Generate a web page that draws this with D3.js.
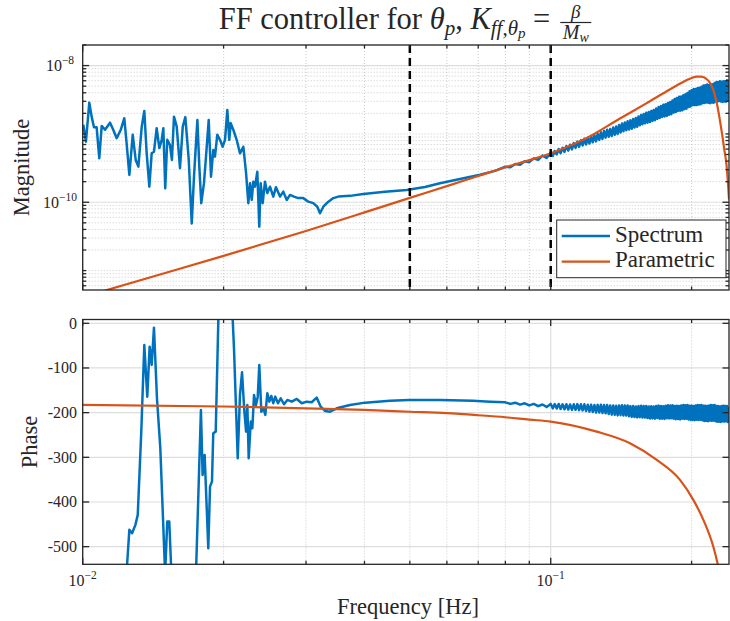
<!DOCTYPE html>
<html><head><meta charset="utf-8">
<script src="https://cdn.jsdelivr.net/npm/d3@7"></script>
<style>
body{margin:0;background:#fff}
svg{display:block}
text{font-family:"Liberation Serif","Times New Roman",serif;fill:#262626}
</style>
</head><body>
<svg id="c" width="730" height="621" font-family="Liberation Serif, Times New Roman, serif"></svg>
<script>
// ---------------- DATA ----------------
const seriesNames = ["Spectrum", "Parametric"];
const xMajorTicks = [0.01, 0.1];
const xTickExponents = [-2, -1];
const xMinorTicks = [0.02, 0.03, 0.04, 0.05, 0.06, 0.07, 0.08, 0.09, 0.2];
const magMajorTicks = [1e-10, 1e-8];
const magTickExponents = [-10, -8];
const phaseTicks = [0, -100, -200, -300, -400, -500];
const phaseTickLabels = ["0", "-100", "-200", "-300", "-400", "-500"];
const dashedFreqs = [0.05, 0.1];

// Spectrum magnitude, noisy low-frequency part
const magLowFreq = [0.01003, 0.01016, 0.01033, 0.01045, 0.01057, 0.01071, 0.01085, 0.01098, 0.01116, 0.01144,
  0.01162, 0.01182, 0.01206, 0.01227, 0.01242, 0.01258, 0.01279, 0.01298, 0.01315, 0.01337,
  0.01354, 0.0137, 0.01388, 0.01404, 0.0142, 0.01439, 0.01458, 0.01475, 0.01487, 0.01501,
  0.01516, 0.01536, 0.01551, 0.01567, 0.01588, 0.01614, 0.01636, 0.01657, 0.01685, 0.0171,
  0.01729, 0.01758, 0.01775, 0.01792, 0.01816, 0.01841, 0.01859, 0.0188, 0.01901, 0.01917,
  0.01939, 0.01965, 0.01991, 0.02014, 0.02037, 0.02057, 0.02071, 0.02098, 0.02133, 0.02168,
  0.02204, 0.02234, 0.02259, 0.02278, 0.02297, 0.02315, 0.02334, 0.02361, 0.02384, 0.024,
  0.02424, 0.02452, 0.0248, 0.02513, 0.02554, 0.02588, 0.0264, 0.02683, 0.02729, 0.02773,
  0.02828, 0.02888, 0.0296, 0.03035, 0.03109, 0.03172, 0.03214, 0.03267, 0.03349, 0.03432,
  0.03518, 0.03726, 0.03977, 0.04426, 0.04923, 0.05387, 0.058, 0.064, 0.07063, 0.07603];
const magLow = [1.36e-9, 7.7e-10, 2.87e-9, 1.79e-9, 1.25e-9, 1.25e-9, 4.4e-10, 1.31e-9, 1.15e-9, 1.46e-9,
  1.15e-9, 8.65e-10, 1.15e-9, 1.70e-9, 6.9e-10, 2.51e-10, 9.7e-10, 4.16e-10, 3.32e-10, 1.28e-9,
  2.17e-9, 5.2e-10, 1.69e-10, 5.2e-10, 5.5e-10, 1.21e-9, 6.2e-10, 8.2e-10, 1.21e-9, 1.6e-10,
  8.2e-10, 6.9e-10, 4.16e-10, 1.79e-9, 1.28e-9, 3.15e-10, 1.28e-9, 1.76e-9, 4.16e-10, 4.9e-11,
  2.37e-10, 1.6e-9, 3.32e-10, 9.7e-11, 1.9e-10, 6.5e-10, 1.6e-9, 2.37e-10, 5.8e-10, 4.66e-10,
  9.7e-10, 8.2e-10, 6.5e-10, 8.2e-10, 2.24e-9, 8.2e-10, 1.44e-9, 1.15e-9, 8.2e-10, 5.2e-10,
  6.5e-10, 2.66e-10, 9.7e-11, 1.9e-10, 1.08e-10, 2.0e-10, 1.69e-10, 2.8e-10, 4.4e-11, 1.9e-10,
  9.7e-11, 2.0e-10, 1.36e-10, 1.69e-10, 1.21e-10, 1.66e-10, 1.21e-10, 1.43e-10, 1.08e-10, 1.28e-10,
  1.21e-10, 1.15e-10, 1.15e-10, 1.02e-10, 9.7e-11, 8.6e-11, 6.9e-11, 8.6e-11, 1.02e-10, 1.15e-10,
  1.21e-10, 1.24e-10, 1.32e-10, 1.42e-10, 1.51e-10, 1.67e-10, 1.9e-10, 2.19e-10, 2.52e-10, 2.88e-10];

// Spectrum phase, low-frequency part
const phaseLowFreq = [0.0124, 0.01258, 0.01275, 0.01296, 0.01311, 0.01334, 0.01354, 0.01374, 0.0139, 0.01404,
  0.0142, 0.01441, 0.01465, 0.015, 0.01516, 0.01531, 0.01547, 0.01638, 0.01746, 0.01789,
  0.01804, 0.01822, 0.01855, 0.01871, 0.01889, 0.01901, 0.01924, 0.01949, 0.0202, 0.02092,
  0.02105, 0.02144, 0.02168, 0.0219, 0.02214, 0.02234, 0.02248, 0.02263, 0.02286, 0.02304,
  0.02323, 0.02346, 0.02366, 0.02384, 0.02408, 0.02432, 0.02456, 0.0248, 0.02505, 0.02529,
  0.02554, 0.02579, 0.02614, 0.02649, 0.02692, 0.02737, 0.02797, 0.02867, 0.02938, 0.0301,
  0.03085, 0.03162, 0.03225, 0.03294, 0.03377, 0.0349, 0.03726, 0.0401, 0.04536, 0.04983,
  0.058, 0.06823, 0.07419];
const phaseLow = [-563, -462.4, -469.8, -451.2, -428.9, -242.5, -48.5, -164.2, -52.3, -93.3,
  -9.8, -167.8, -279.6, -560, -443.8, -443.8, -560, -700, -560, -194,
  -339.4, -294.6, -503.4, -365.5, -354.4, -246.1, -242.5, 7.4, 60, 7.4,
  -55.9, -302, -160.4, -109.6, -194, -242.5, -182.8, -302, -220.1, -234.9,
  -160.4, -182.8, -164.2, -93.3, -197.8, -190.2, -205.1, -156.6, -175.4, -162.6,
  -179, -164.2, -179, -167.8, -181.2, -171.6, -175.4, -169.4, -179, -175.4,
  -176.7, -166.4, -186.6, -196.2, -197.8, -190.2, -182.8, -177.6, -173.2, -171.6,
  -171.6, -173.2, -175.4];

// Spectrum, high-frequency part (fast oscillating band)
const bandFreq = [0.080, 0.082, 0.084, 0.086, 0.088, 0.090, 0.092, 0.094, 0.096, 0.098,
  0.100, 0.101, 0.102, 0.103, 0.104, 0.105, 0.106, 0.107, 0.108, 0.109,
  0.110, 0.111, 0.112, 0.113, 0.114, 0.115, 0.116, 0.117, 0.118, 0.119,
  0.120, 0.121, 0.122, 0.123, 0.124, 0.125, 0.126, 0.127, 0.128, 0.129,
  0.130, 0.131, 0.132, 0.133, 0.134, 0.135, 0.136, 0.137, 0.138, 0.139,
  0.140, 0.141, 0.142, 0.143, 0.144, 0.145, 0.146, 0.147, 0.148, 0.149,
  0.150, 0.151, 0.152, 0.153, 0.154, 0.155, 0.156, 0.157, 0.158, 0.159,
  0.160, 0.161, 0.162, 0.163, 0.164, 0.165, 0.166, 0.167, 0.168, 0.169,
  0.170, 0.171, 0.172, 0.173, 0.174, 0.175, 0.176, 0.177, 0.178, 0.179,
  0.180, 0.181, 0.182, 0.183, 0.184, 0.185, 0.186, 0.187, 0.188, 0.189,
  0.190, 0.191, 0.192, 0.193, 0.194, 0.195, 0.196, 0.197, 0.198, 0.199,
  0.200, 0.201, 0.202, 0.203, 0.204, 0.205, 0.206, 0.207, 0.208, 0.209,
  0.210, 0.211, 0.212, 0.213, 0.214, 0.215, 0.216, 0.217, 0.218, 0.219,
  0.220, 0.221, 0.222, 0.223, 0.224, 0.225, 0.226, 0.227, 0.228, 0.229,
  0.230, 0.231, 0.232, 0.233, 0.234, 0.235, 0.236, 0.237, 0.238, 0.239, 0.240];
const bandMag = [3.31e-10, 3.25e-10, 3.64e-10, 3.55e-10, 3.99e-10, 3.86e-10, 4.39e-10, 4.16e-10, 4.81e-10, 4.45e-10,
  5.28e-10, 4.76e-10, 5.61e-10, 5.02e-10, 6.0e-10, 5.24e-10, 6.29e-10, 5.45e-10, 6.64e-10, 5.70e-10,
  6.95e-10, 5.94e-10, 7.33e-10, 6.24e-10, 7.72e-10, 6.49e-10, 8.06e-10, 6.78e-10, 8.49e-10, 7.0e-10,
  8.77e-10, 7.23e-10, 9.18e-10, 7.53e-10, 9.53e-10, 7.78e-10, 1.003e-9, 8.17e-10, 1.055e-9, 8.46e-10,
  1.10e-9, 8.83e-10, 1.15e-9, 9.08e-10, 1.18e-9, 9.33e-10, 1.24e-9, 9.71e-10, 1.28e-9, 1.0e-9,
  1.35e-9, 1.05e-9, 1.42e-9, 1.09e-9, 1.47e-9, 1.13e-9, 1.53e-9, 1.16e-9, 1.58e-9, 1.19e-9,
  1.65e-9, 1.24e-9, 1.71e-9, 1.27e-9, 1.80e-9, 1.34e-9, 1.89e-9, 1.38e-9, 1.96e-9, 1.43e-9,
  2.04e-9, 1.46e-9, 2.09e-9, 1.49e-9, 2.17e-9, 1.55e-9, 2.24e-9, 1.59e-9, 2.35e-9, 1.66e-9,
  2.47e-9, 1.71e-9, 2.55e-9, 1.77e-9, 2.67e-9, 1.80e-9, 2.72e-9, 1.83e-9, 2.84e-9, 1.90e-9,
  2.93e-9, 1.94e-9, 3.08e-9, 2.04e-9, 3.24e-9, 2.09e-9, 3.34e-9, 2.17e-9, 3.50e-9, 2.19e-9,
  3.54e-9, 2.21e-9, 3.68e-9, 2.30e-9, 3.79e-9, 2.34e-9, 3.98e-9, 2.47e-9, 4.20e-9, 2.52e-9,
  4.34e-9, 2.63e-9, 4.53e-9, 2.64e-9, 4.53e-9, 2.64e-9, 4.68e-9, 2.70e-9, 4.72e-9, 2.71e-9,
  4.91e-9, 2.82e-9, 5.09e-9, 2.83e-9, 5.14e-9, 2.89e-9, 5.29e-9, 2.86e-9, 5.21e-9, 2.82e-9,
  5.32e-9, 2.87e-9, 5.35e-9, 2.86e-9, 5.54e-9, 2.98e-9, 5.74e-9, 2.97e-9, 5.77e-9, 3.03e-9,
  5.92e-9, 2.98e-9, 5.79e-9, 2.93e-9, 5.91e-9, 2.98e-9, 5.89e-9, 2.96e-9, 6.08e-9, 3.08e-9, 6.26e-9];
const bandPhase = [-176.9, -180.4, -177.7, -182.0, -179.1, -183.8, -180.5, -185.5, -181.8, -187.2,
  -180.5, -190.4, -180.7, -190.8, -180.6, -191.7, -181.3, -192.6, -181.2, -193.0,
  -181.7, -193.8, -181.3, -193.7, -181.0, -194.4, -181.3, -194.9, -181.3, -196.3,
  -182.3, -197.8, -182.4, -198.5, -182.9, -199.8, -182.6, -199.8, -182.4, -200.9,
  -182.9, -201.4, -182.8, -202.9, -184.1, -204.5, -183.9, -205.0, -184.5, -206.1,
  -184.1, -205.6, -183.5, -206.4, -184.1, -206.6, -183.9, -208.1, -185.4, -209.5,
  -185.2, -209.7, -186.0, -210.8, -185.3, -210.1, -184.7, -210.9, -185.1, -210.9,
  -184.9, -212.2, -186.3, -213.2, -185.8, -212.9, -186.3, -213.5, -185.4, -212.1,
  -184.3, -213.8, -185.3, -213.5, -185.8, -214.1, -184.8, -212.7, -183.7, -213.1,
  -184.1, -212.6, -183.5, -213.7, -184.9, -214.8, -184.5, -214.4, -184.9, -215.1,
  -184.0, -213.7, -183.0, -214.3, -183.5, -213.9, -183.0, -215.2, -184.7, -216.5,
  -184.3, -216.3, -185.0, -217.1, -184.0, -215.7, -183.0, -216.3, -183.5, -215.9,
  -183.0, -217.3, -184.7, -218.7, -184.4, -218.4, -185.1, -219.3, -184.1, -217.7,
  -182.9, -218.4, -183.6, -217.8, -183.1, -219.1, -185.3, -220.5, -185.1, -220.2,
  -186.1, -221.0, -185.2, -219.4, -184.4, -220.0, -185.2, -219.5, -184.9, -220.9, -187.0];

// Parametric model
const paramMagFreq = [0.01, 0.015, 0.02, 0.03, 0.04, 0.05, 0.06, 0.07, 0.08, 0.09,
  0.1, 0.12, 0.14, 0.16, 0.18, 0.19, 0.2, 0.205, 0.21, 0.215,
  0.22, 0.2225, 0.225, 0.2275, 0.23, 0.2325, 0.235, 0.2375, 0.2404];
const paramMag = [4.1e-12, 9.2e-12, 1.64e-11, 3.8e-11, 7.1e-11, 1.16e-10, 1.72e-10, 2.42e-10, 3.25e-10, 4.13e-10,
  5.21e-10, 8.9e-10, 1.65e-9, 2.8e-9, 4.5e-9, 5.55e-9, 6.56e-9, 6.9e-9, 6.88e-9, 6.4e-9,
  5.3e-9, 4.4e-9, 3.35e-9, 2.4e-9, 1.55e-9, 9.7e-10, 5.8e-10, 3.5e-10, 1.1e-10];
const paramPhaseFreq = [0.01, 0.02, 0.03, 0.04, 0.05, 0.06, 0.07, 0.08, 0.09, 0.1,
  0.1254, 0.1477, 0.1685, 0.1889, 0.2017, 0.2119, 0.2225, 0.2274, 0.23];
const paramPhase = [-182.8, -186.2, -190.4, -194, -198, -201.3, -205.8, -210.3, -215.6, -220,
  -242.5, -268.5, -305.8, -350.6, -395.3, -440, -499.8, -539, -565];

// ---------------- LAYOUT ----------------
const FONT = "Liberation Serif, Times New Roman, serif";
const L = 82.7, R = 729;
const magTop = 45, magBot = 290, phTop = 319.5, phBot = 564.3;
const blue = "#0072BD", orange = "#D95319", axisCol = "#262626";

const svg = d3.select("#c");
const x = d3.scaleLog().domain([0.01, 0.2404]).range([L, R]);
const yM = d3.scaleLog().domain([5.2e-12, 2.0e-8]).range([magBot, magTop]);
const yP = d3.scaleLinear().domain([-539.5, 8.5]).range([phBot, phTop]);

const magMinorTicks = yM.ticks().filter(v => !magMajorTicks.some(m => Math.abs(m - v) / m < 1e-6));

const defs = svg.append("defs");
defs.append("clipPath").attr("id", "clipM").append("rect")
  .attr("x", L).attr("y", magTop).attr("width", R - L).attr("height", magBot - magTop);
defs.append("clipPath").attr("id", "clipP").append("rect")
  .attr("x", L).attr("y", phTop).attr("width", R - L).attr("height", phBot - phTop);

function txt(g) { return g.append("text").attr("font-family", FONT).attr("fill", axisCol); }

function drawGrid(g, top, bot, yScale, yMaj, yMin) {
  xMinorTicks.forEach(f => g.append("line").attr("x1", x(f)).attr("x2", x(f)).attr("y1", top).attr("y2", bot)
    .attr("stroke", "#bdbdbd").attr("stroke-width", 0.8).attr("stroke-dasharray", "1,2"));
  yMin.forEach(v => g.append("line").attr("x1", L).attr("x2", R).attr("y1", yScale(v)).attr("y2", yScale(v))
    .attr("stroke", "#bdbdbd").attr("stroke-width", 0.8).attr("stroke-dasharray", "1,2"));
  xMajorTicks.forEach(f => g.append("line").attr("x1", x(f)).attr("x2", x(f)).attr("y1", top).attr("y2", bot)
    .attr("stroke", "#dedede").attr("stroke-width", 1.2));
  yMaj.forEach(v => g.append("line").attr("x1", L).attr("x2", R).attr("y1", yScale(v)).attr("y2", yScale(v))
    .attr("stroke", "#dedede").attr("stroke-width", 1.2));
}

function drawFrame(g, top, bot, yScale, yMaj, yMin) {
  g.append("rect").attr("x", L).attr("y", top).attr("width", R - L).attr("height", bot - top)
    .attr("fill", "none").attr("stroke", axisCol).attr("stroke-width", 1.3);
  const tick = (x1, y1, x2, y2) => g.append("line").attr("x1", x1).attr("y1", y1).attr("x2", x2).attr("y2", y2)
    .attr("stroke", axisCol).attr("stroke-width", 1.3);
  xMajorTicks.forEach(f => { tick(x(f), bot, x(f), bot - 6.5); tick(x(f), top, x(f), top + 6.5); });
  xMinorTicks.forEach(f => { tick(x(f), bot, x(f), bot - 3.5); tick(x(f), top, x(f), top + 3.5); });
  yMaj.forEach(v => { tick(L, yScale(v), L + 6.5, yScale(v)); tick(R, yScale(v), R - 6.5, yScale(v)); });
  yMin.forEach(v => { tick(L, yScale(v), L + 3.5, yScale(v)); tick(R, yScale(v), R - 3.5, yScale(v)); });
}

function powLabel(g, px, py, exp, anchor) {
  const t = txt(g).attr("x", px).attr("y", py).attr("text-anchor", anchor).style("font-size", "16px");
  t.append("tspan").text("10");
  t.append("tspan").attr("dy", -7).style("font-size", "11.5px").text("\u2212" + Math.abs(exp));
  return t;
}

const zip = (fs, vs) => fs.map((f, i) => [f, vs[i]]);

// ---------- Magnitude axes ----------
const gM = svg.append("g");
drawGrid(gM, magTop, magBot, yM, magMajorTicks, magMinorTicks);
const specMag = zip(magLowFreq, magLow).concat(zip(bandFreq, bandMag));
const lineM = d3.line().x(d => x(d[0])).y(d => yM(d[1]));
const lineMs = d3.line().x(d => x(d[0])).y(d => yM(d[1])).curve(d3.curveMonotoneX);
const dM = gM.append("g").attr("clip-path", "url(#clipM)");
dM.append("path").attr("d", lineM(specMag)).attr("fill", "none").attr("stroke", blue)
  .attr("stroke-width", 2.5).attr("stroke-linejoin", "round");
dM.append("path").attr("d", lineMs(zip(paramMagFreq, paramMag))).attr("fill", "none").attr("stroke", orange)
  .attr("stroke-width", 2.2);
dashedFreqs.forEach(f => dM.append("line").attr("x1", x(f)).attr("x2", x(f)).attr("y1", magTop).attr("y2", magBot)
  .attr("stroke", "#000").attr("stroke-width", 2.5).attr("stroke-dasharray", "8,5"));
drawFrame(gM, magTop, magBot, yM, magMajorTicks, magMinorTicks);
magMajorTicks.forEach((v, i) => powLabel(gM, 60, yM(v) + 5.5, magTickExponents[i], "middle"));

// ---------- Phase axes ----------
const gP = svg.append("g");
drawGrid(gP, phTop, phBot, yP, phaseTicks, []);
const specPh = zip(phaseLowFreq, phaseLow).concat(zip(bandFreq, bandPhase));
const lineP = d3.line().x(d => x(d[0])).y(d => yP(d[1]));
const linePs = d3.line().x(d => x(d[0])).y(d => yP(d[1])).curve(d3.curveMonotoneX);
const dP = gP.append("g").attr("clip-path", "url(#clipP)");
dP.append("path").attr("d", lineP(specPh)).attr("fill", "none").attr("stroke", blue)
  .attr("stroke-width", 2.5).attr("stroke-linejoin", "round");
dP.append("path").attr("d", linePs(zip(paramPhaseFreq, paramPhase))).attr("fill", "none").attr("stroke", orange)
  .attr("stroke-width", 2.2);
drawFrame(gP, phTop, phBot, yP, phaseTicks, []);
phaseTicks.forEach((v, i) => txt(gP).attr("x", 77).attr("y", yP(v) + 5.3)
  .attr("text-anchor", "end").style("font-size", "16px").text(phaseTickLabels[i]));
xMajorTicks.forEach((f, i) => powLabel(gP, x(f), 585.5, xTickExponents[i], "middle"));

// ---------- Axis labels ----------
txt(svg).attr("x", 408).attr("y", 614).attr("text-anchor", "middle").style("font-size", "22.5px")
  .text("Frequency [Hz]");
txt(svg).attr("transform", "translate(28.5," + ((magTop + magBot) / 2) + ") rotate(-90)")
  .attr("text-anchor", "middle").style("font-size", "22.5px").text("Magnitude");
txt(svg).attr("transform", "translate(36.7," + ((phTop + phBot) / 2) + ") rotate(-90)")
  .attr("text-anchor", "middle").style("font-size", "22.5px").text("Phase");

// ---------- Title ----------
const tg = svg.append("g");
const title = txt(tg).attr("x", 0).attr("y", 29).style("font-size", "30.5px");
title.append("tspan").text("FF controller for ");
title.append("tspan").style("font-style", "italic").text("\u03b8");
title.append("tspan").attr("dy", 5.5).style("font-size", "21px").style("font-style", "italic").text("p");
title.append("tspan").attr("dy", -5.5).text(", ");
title.append("tspan").style("font-style", "italic").text("K");
title.append("tspan").attr("dy", 5.5).style("font-size", "21px").style("font-style", "italic").text("ff,\u03b8");
title.append("tspan").attr("dy", 3.5).style("font-size", "15px").style("font-style", "italic").text("p");
title.append("tspan").attr("dy", -9).text(" = ");
const tw = title.node().getComputedTextLength();
const num = txt(tg).attr("y", 17.5).attr("text-anchor", "middle").style("font-size", "19px").style("font-style", "italic").text("\u03b2");
const den = txt(tg).attr("y", 38.5).attr("text-anchor", "middle").style("font-size", "20px").style("font-style", "italic");
den.append("tspan").text("M");
den.append("tspan").attr("dy", 3.5).style("font-size", "14px").text("w");
const dw = den.node().getComputedTextLength();
const fw = dw + 5;
const gap = 10;
const total = tw + gap + fw;
const x0 = 405 - total / 2;
title.attr("x", x0);
const fx = x0 + tw + gap;
num.attr("x", fx + fw / 2);
den.attr("x", fx + fw / 2);
tg.append("line").attr("x1", fx).attr("x2", fx + fw).attr("y1", 22.5).attr("y2", 22.5)
  .attr("stroke", axisCol).attr("stroke-width", 1.2);

// ---------- Legend ----------
const lg = svg.append("g");
lg.append("rect").attr("x", 556.7).attr("y", 220).attr("width", 169.3).attr("height", 57.7)
  .attr("fill", "#fff").attr("stroke", axisCol).attr("stroke-width", 1);
[[blue, 236, 241.5], [orange, 261.7, 267]].forEach((e, i) => {
  lg.append("line").attr("x1", 561.7).attr("x2", 610).attr("y1", e[1]).attr("y2", e[1])
    .attr("stroke", e[0]).attr("stroke-width", i === 0 ? 2.5 : 2.2);
  txt(lg).attr("x", 615).attr("y", e[2]).style("font-size", "23px").text(seriesNames[i]);
});
</script>
</body></html>
